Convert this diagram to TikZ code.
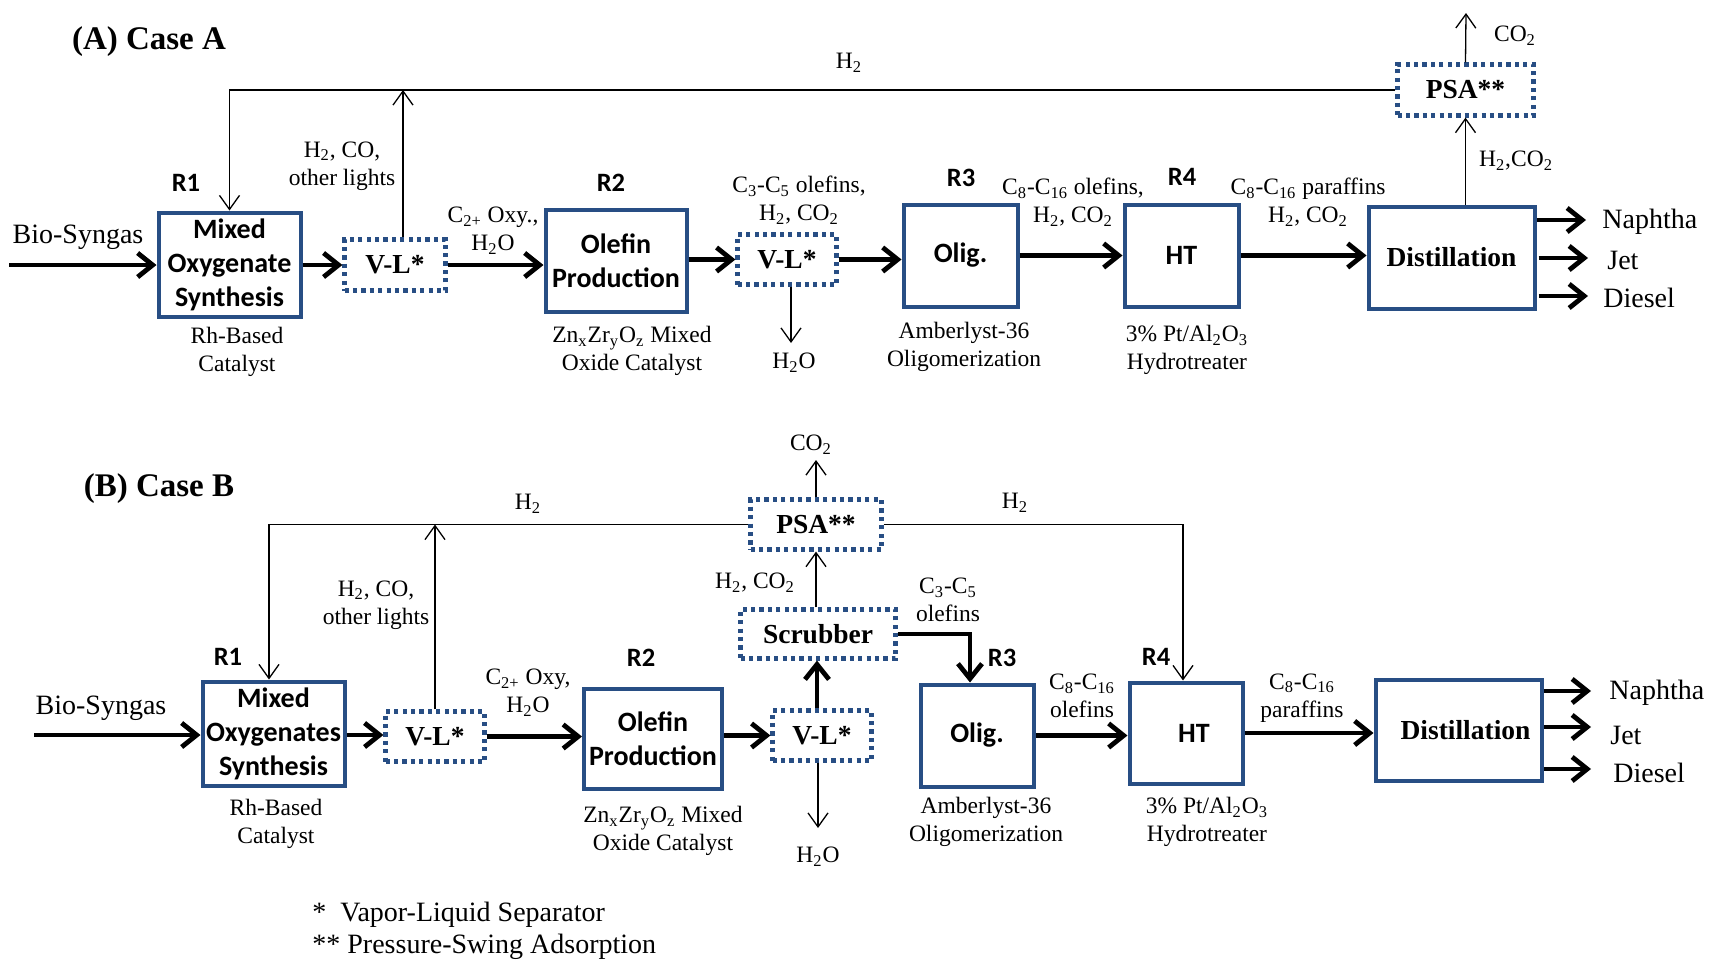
\documentclass[tikz,border=0pt]{standalone}
\usepackage{fontspec}
\setmainfont{Liberation Serif}
\newfontfamily\carl{Carlito}
\usetikzlibrary{arrows.meta}
\definecolor{boxblue}{RGB}{40,78,132}
\newcommand{\sub}[1]{\textsubscript{#1}}
\begin{document}
\begin{tikzpicture}[x=0.5pt,y=-0.5pt,
 box/.style={draw=boxblue, line width=2pt, inner sep=0pt, align=center, font=\carl\bfseries\fontsize{14}{17}\selectfont},
 dbox/.style={draw=boxblue, line width=2.1pt, dash pattern=on 2.1pt off 2.1pt, inner sep=0pt, align=center, font=\bfseries\fontsize{13.75}{16}\selectfont},
 lbl/.style={inner sep=0pt, align=center, font=\fontsize{11.75}{14}\selectfont},
 big/.style={inner sep=0pt, font=\fontsize{14}{16}\selectfont},
 rl/.style={inner sep=0pt, font=\carl\bfseries\fontsize{13.25}{16}\selectfont},
 ttl/.style={inner sep=0pt, font=\bfseries\fontsize{16.5}{20}\selectfont},
 thk/.style={line width=2.4pt, -{Straight Barb[length=7.5pt,width=12pt]}},
 thn/.style={line width=0.65pt, -{Straight Barb[length=7pt,width=10pt]}},
]
\useasboundingbox (0,0) rectangle (1709,964);

% ================= Case A =================
\node[ttl] (titleA) at (149,42) {(A) Case A};

\node[box, minimum width=71pt, minimum height=52pt] (r1a) at (229.5,264.5) {Mixed\\Oxygenate\\Synthesis};
\node[dbox, minimum width=50.5pt, minimum height=25.5pt] (vl1a) at (395,265) {V-L*};
\node[box, minimum width=70.5pt, minimum height=51pt] (r2a) at (616,260.5) {Olefin\\Production};
\node[dbox, minimum width=49.5pt, minimum height=25pt] (vl2a) at (787,259.5) {V-L*};
\node[box, minimum width=57pt, minimum height=51pt] (olga) at (960.5,255.5) {Olig.};
\node[box, minimum width=57pt, minimum height=51pt] (hta) at (1181.5,255.5) {HT};
\node[box, minimum width=83pt, minimum height=51pt, font=\bfseries\fontsize{13.75}{16}\selectfont] (dista) at (1451.5,257.5) {Distillation};
\node[dbox, minimum width=68pt, minimum height=25.5pt] (psaa) at (1465.5,90) {PSA**};

\node[rl] (R1a) at (186,183) {R1};
\node[rl] (R2a) at (611,183) {R2};
\node[rl] (R3a) at (961,178) {R3};
\node[rl] (R4a) at (1182,177) {R4};

\node[big] (bioA) at (78,237) {Bio-Syngas};
\node[lbl] (h2topA) at (849,63) {H\sub{2}};
\node[lbl] (lightsA) at (342,166) {H\sub{2}, CO,\\other lights};
\node[lbl] (c2A) at (493,231) {C\sub{2+} Oxy.,\\H\sub{2}O};
\node[lbl] (c3A) at (799,200) {C\sub{3}-C\sub{5} olefins,\\H\sub{2}, CO\sub{2}};
\node[lbl] (c8A) at (1073,202) {C\sub{8}-C\sub{16} olefins,\\H\sub{2}, CO\sub{2}};
\node[lbl] (parA) at (1308,202) {C\sub{8}-C\sub{16} paraffins\\H\sub{2}, CO\sub{2}};
\node[lbl] (h2co2A) at (1516,161) {H\sub{2},CO\sub{2}};
\node[lbl] (co2A) at (1515,36) {CO\sub{2}};
\node[lbl] (rhA) at (237,352) {Rh-Based\\Catalyst};
\node[lbl] (znA) at (632,351) {Zn\sub{x}Zr\sub{y}O\sub{z} Mixed\\Oxide Catalyst};
\node[lbl] (h2oA) at (794,363) {H\sub{2}O};
\node[lbl] (ambA) at (964,347) {Amberlyst-36\\Oligomerization};
\node[lbl] (ptA) at (1187,350) {3\% Pt/Al\sub{2}O\sub{3}\\Hydrotreater};

\node[big, anchor=west] (napA) at (1602,222) {Naphtha};
\node[big, anchor=west] (jetA) at (1607,260) {Jet};
\node[big, anchor=west] (dieA) at (1603,298) {Diesel};

\coordinate (inA) at (9,265);
\coordinate (napAe) at (1586,220);
\coordinate (jetAe) at (1588,258);
\coordinate (dieAe) at (1588,296);
\coordinate (co2Ae) at (1466,13);
\coordinate (h2oAe) at (791,343);

\draw[thk] (inA) -- (inA -| r1a.west);
\draw[thk] (r1a.east |- vl1a.west) -- (vl1a.west);
\draw[thk] (vl1a.east) -- (vl1a.east -| r2a.west);
\draw[thk] (r2a.east |- vl2a.west) -- (vl2a.west);
\draw[thk] (vl2a.east) -- (vl2a.east -| olga.west);
\draw[thk] (olga.east) -- (hta.west);
\draw[thk] (hta.east) -- (hta.east -| dista.west);
\draw[thk] (dista.east |- napAe) -- (napAe);
\draw[thk] ([xshift=1pt]dista.east |- jetAe) -- (jetAe);
\draw[thk] ([xshift=1pt]dista.east |- dieAe) -- (dieAe);

\draw[thn] (psaa.west) -| (r1a.north);
\draw[thn] ([xshift=4pt]vl1a.north) -- ([xshift=4pt]vl1a.north |- psaa.west);
\draw[thn] (psaa.south |- dista.north) -- (psaa.south);
\draw[thn] (psaa.north) -- (co2Ae);
\draw[thn] (h2oAe |- vl2a.south) -- (h2oAe);

% ================= Case B =================
\node[ttl] (titleB) at (159,489) {(B) Case B};

\node[box, minimum width=71pt, minimum height=52pt] (r1b) at (273.5,733.5) {Mixed\\Oxygenates\\Synthesis};
\node[dbox, minimum width=49.5pt, minimum height=25pt] (vl1b) at (435,736.5) {V-L*};
\node[box, minimum width=69pt, minimum height=50pt] (r2b) at (653,738.5) {Olefin\\Production};
\node[dbox, minimum width=49.5pt, minimum height=25pt] (vl2b) at (822,735.5) {V-L*};
\node[dbox, minimum width=77.5pt, minimum height=24.5pt] (scrub) at (818,634) {Scrubber};
\node[dbox, minimum width=65.5pt, minimum height=25pt] (psab) at (816,524.5) {PSA**};
\node[box, minimum width=56.5pt, minimum height=51pt] (olgb) at (977,735.5) {Olig.};
\node[box, minimum width=56.5pt, minimum height=50.5pt] (htb) at (1186,733) {\hspace*{8pt}HT};
\node[box, minimum width=83pt, minimum height=50.5pt, font=\bfseries\fontsize{13.75}{16}\selectfont] (distb) at (1458.5,730) {\hspace*{7pt}Distillation};

\node[rl] (R1b) at (228,657) {R1};
\node[rl] (R2b) at (641,658) {R2};
\node[rl] (R3b) at (1002,658) {R3};
\node[rl] (R4b) at (1156,657) {R4};

\node[big] (bioB) at (101,708) {Bio-Syngas};
\node[lbl] (h2Bl) at (528,504) {H\sub{2}};
\node[lbl] (h2Br) at (1015,503) {H\sub{2}};
\node[lbl] (co2B) at (811,445) {CO\sub{2}};
\node[lbl] (lightsB) at (376,605) {H\sub{2}, CO,\\other lights};
\node[lbl] (c2B) at (528,693) {C\sub{2+} Oxy,\\H\sub{2}O};
\node[lbl] (h2co2B) at (755,583) {H\sub{2}, CO\sub{2}};
\node[lbl] (c3B) at (948,600) {C\sub{3}-C\sub{5}\\olefins};
\node[lbl] (c8B) at (1082,696) {C\sub{8}-C\sub{16}\\olefins};
\node[lbl] (parB) at (1302,698) {C\sub{8}-C\sub{16}\\paraffins};
\node[lbl] (rhB) at (276,824) {Rh-Based\\Catalyst};
\node[lbl] (znB) at (663,831) {Zn\sub{x}Zr\sub{y}O\sub{z} Mixed\\Oxide Catalyst};
\node[lbl] (h2oB) at (818,857) {H\sub{2}O};
\node[lbl] (ambB) at (986,822) {Amberlyst-36\\Oligomerization};
\node[lbl] (ptB) at (1207,822) {3\% Pt/Al\sub{2}O\sub{3}\\Hydrotreater};

\node[big, anchor=west] (napB) at (1609,693) {Naphtha};
\node[big, anchor=west] (jetB) at (1610,735) {Jet};
\node[big, anchor=west] (dieB) at (1613,773) {Diesel};

\coordinate (inB) at (34,735);
\coordinate (napBe) at (1591,691);
\coordinate (jetBe) at (1591,727);
\coordinate (dieBe) at (1591,769);
\coordinate (co2Be) at (811,460);
\coordinate (h2oBe) at (818,828);

\draw[thk] (inB) -- (inB -| r1b.west);
\draw[thk] (r1b.east |- inB) -- (inB -| vl1b.west);
\draw[thk] (vl1b.east) -- (vl1b.east -| r2b.west);
\draw[thk] (r2b.east |- vl2b.west) -- (vl2b.west);
\draw[thk] ([xshift=-2.5pt]vl2b.north) -- ([xshift=-2.5pt]vl2b.north |- scrub.south);
\draw[thk] (scrub.east) -| ([xshift=-3.5pt]olgb.north);
\draw[thk] (olgb.east) -- (olgb.east -| htb.west);
\draw[thk] (htb.east) -- (htb.east -| distb.west);
\draw[thk] (distb.east |- napBe) -- (napBe);
\draw[thk] (distb.east |- jetBe) -- (jetBe);
\draw[thk] (distb.east |- dieBe) -- (dieBe);

\draw[thn] (psab.south |- scrub.north) -- (psab.south);
\draw[thn] (psab.north) -- (co2Be -| psab.north);
\draw[thn] (psab.west) -| ([xshift=-2.25pt]r1b.north);
\draw[thn] (vl1b.north) -- (vl1b.north |- psab.west);
\draw[thn] (psab.east) -| ([xshift=-1.5pt]htb.north);
\draw[thn] (h2oBe |- vl2b.south) -- (h2oBe);

% legend
\node[big, anchor=west, align=left] (legend) at (312,931) {*\ \ Vapor-Liquid Separator\\** Pressure-Swing Adsorption};
\end{tikzpicture}
\end{document}
